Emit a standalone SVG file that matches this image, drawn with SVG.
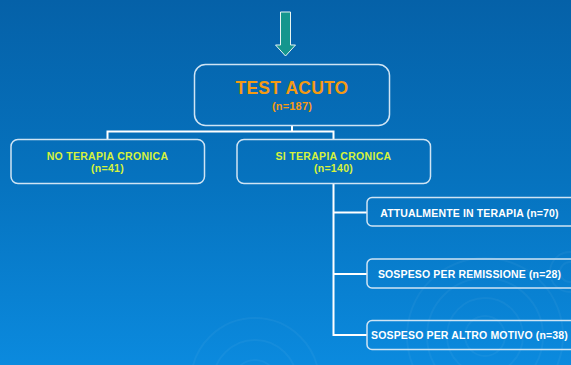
<svg xmlns="http://www.w3.org/2000/svg" width="571" height="365" viewBox="0 0 571 365">
  <defs>
    <linearGradient id="bg" x1="0" y1="0" x2="0" y2="1">
      <stop offset="0" stop-color="#0561a8"/>
      <stop offset="0.5" stop-color="#0673bf"/>
      <stop offset="1" stop-color="#0b8ade"/>
    </linearGradient>
    <style>
      .box { fill: none; stroke: #cfe4f4; stroke-width: 1.5; }
      .wire { fill: none; stroke: #ffffff; stroke-width: 2; }
      .ripple { fill: none; stroke: #ffffff; stroke-opacity: 0.045; stroke-width: 2; }
      .lbl { font-family: "Liberation Sans", Arial, sans-serif; font-weight: bold; text-anchor: middle; letter-spacing: 0.3px; }
      .head { fill: #f59a12; letter-spacing: 0.2px; }
      .lime { fill: #d6f23c; font-size: 10.5px; }
      .white { fill: #ffffff; font-size: 10.5px; letter-spacing: 0.15px; }
    </style>
  </defs>

  <!-- background -->
  <rect x="0" y="0" width="571" height="365" fill="url(#bg)"/>
  <g id="ripples">
    <circle class="ripple" cx="485" cy="336" r="20"/>
    <circle class="ripple" cx="485" cy="336" r="38"/>
    <circle class="ripple" cx="485" cy="336" r="58"/>
    <circle class="ripple" cx="485" cy="336" r="78"/>
    <circle class="ripple" cx="255" cy="382" r="22"/>
    <circle class="ripple" cx="255" cy="382" r="42"/>
    <circle class="ripple" cx="255" cy="382" r="64"/>
    <circle class="ripple" cx="570" cy="272" r="10"/>
    <circle class="ripple" cx="570" cy="272" r="20"/>
  </g>

  <!-- incoming arrow -->
  <g id="arrow">
    <path d="M280.5 12 H290.5 V45 H295.5 L285.5 56 L275.5 45 H280.5 Z" fill="#14968e" stroke="#e6f4f2" stroke-width="1"/>
  </g>

  <!-- connectors -->
  <g id="connectors">
    <path class="wire" d="M292 126 V131.5 M107.5 139.5 V131.5 H333.5 V139.5"/>
    <path class="wire" d="M333.5 183.5 V335 H367 M333.5 212.5 H367 M333.5 274 H367"/>
  </g>

  <g id="test-acuto">
    <rect class="box" x="194.5" y="64.5" width="195" height="61" rx="11"/>
    <text class="lbl head" x="292" y="94" font-size="17.5">TEST ACUTO</text>
    <text class="lbl head" x="292" y="110" font-size="11">(n=187)</text>
  </g>

  <g id="no-terapia">
    <rect class="box" x="11" y="139.5" width="193.5" height="44" rx="7"/>
    <text class="lbl lime" x="107.5" y="159.5">NO TERAPIA CRONICA</text>
    <text class="lbl lime" x="107.5" y="172">(n=41)</text>
  </g>

  <g id="si-terapia">
    <rect class="box" x="237" y="139.5" width="193.5" height="44" rx="7"/>
    <text class="lbl lime" x="333.5" y="159.5">SI TERAPIA CRONICA</text>
    <text class="lbl lime" x="333.5" y="172">(n=140)</text>
  </g>

  <g id="attualmente">
    <rect class="box" x="367" y="197.5" width="210" height="28.5" rx="5"/>
    <text class="lbl white" x="469.5" y="216.5">ATTUALMENTE IN TERAPIA (n=70)</text>
  </g>

  <g id="remissione">
    <rect class="box" x="367" y="259" width="210" height="29" rx="5"/>
    <text class="lbl white" x="469.5" y="277.5">SOSPESO PER REMISSIONE (n=28)</text>
  </g>

  <g id="altro-motivo">
    <rect class="box" x="367" y="320.5" width="210" height="29" rx="5"/>
    <text class="lbl white" x="469.5" y="339">SOSPESO PER ALTRO MOTIVO (n=38)</text>
  </g>
</svg>
